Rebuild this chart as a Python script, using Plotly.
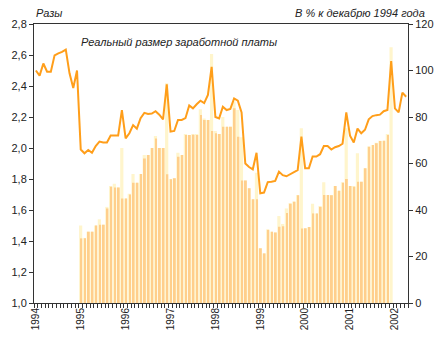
import plotly.graph_objects as go

# Real wage index, % of December 1994 (monthly, Jan 1994 - Apr 2002), right axis
wage_index = [
    100, 97.8, 103, 99.5, 99.5, 106.5, 107.4, 108, 109, 98.8, 92.5, 100,
    66, 64.4, 65.8, 64.6, 67.5, 69.4, 69, 69, 72, 72, 72, 83,
    70.8, 73, 76.5, 75, 79.5, 81.8, 81.3, 81.5, 82.5, 81, 79, 94,
    73.7, 74, 78.7, 78.7, 79.5, 85, 83.7, 85.5, 87, 86, 89.5, 101.6,
    80, 79.4, 84.4, 83, 83.5, 88, 87, 82, 60, 58.5, 57.5, 64.6,
    47.2, 47.5, 52, 52.2, 52.5, 56.5, 55, 54.5, 55.5, 56.5, 57.2, 71.6,
    58, 58, 63, 63, 64, 67.5, 67.5, 66, 67, 67.5, 68.5, 82,
    72, 69, 75, 73, 74.5, 79, 80.4, 80.8, 81, 82.5, 83, 104,
    83.7, 82, 90.5, 88.7,
]

# Ratios ("Разы"), monthly Jan 1995 - Dec 2001, left axis
ratio_light = [
    1.50, 1.42, 1.46, 1.46, 1.50, 1.54, 1.505, 1.62, 1.755, 1.77, 1.745, 2.00,
    1.675, 1.705, 1.832, 1.776, 1.832, 1.955, 1.955, 2.00, 2.077, 2.00, 2.00, 2.417,
    1.80, 1.805, 1.97, 1.955, 2.09, 2.084, 2.09, 2.09, 2.25, 2.19, 2.18, 2.606,
    2.11, 2.09, 2.20, 2.137, 2.137, 2.30, 2.245, 2.07, 1.79, 1.74, 1.669, 1.84,
    1.353, 1.32, 1.475, 1.46, 1.455, 1.561, 1.51, 1.61, 1.645, 1.655, 1.697, 2.127,
    1.482, 1.49, 1.64, 1.578, 1.626, 1.779, 1.697, 1.697, 1.755, 1.725, 1.779, 2.127,
    1.755, 1.755, 1.966, 1.783, 1.87, 2.01, 2.02, 2.034, 2.047, 2.047, 2.09, 2.65,
]
ratio_main = [
    1.417, 1.417, 1.46, 1.46, 1.50, 1.505, 1.505, 1.61, 1.75, 1.745, 1.745, 1.675,
    1.675, 1.70, 1.776, 1.776, 1.832, 1.933, 1.955, 2.00, 2.062, 2.00, 2.00, 1.83,
    1.798, 1.805, 1.944, 1.955, 2.084, 2.084, 2.085, 2.084, 2.213, 2.18, 2.18, 2.11,
    2.095, 2.09, 2.137, 2.137, 2.137, 2.256, 2.073, 1.79, 1.79, 1.74, 1.669, 1.669,
    1.353, 1.32, 1.472, 1.46, 1.455, 1.492, 1.495, 1.58, 1.64, 1.654, 1.695, 1.48,
    1.482, 1.49, 1.578, 1.578, 1.62, 1.697, 1.697, 1.695, 1.755, 1.725, 1.776, 1.80,
    1.755, 1.75, 1.783, 1.783, 1.87, 2.008, 2.02, 2.03, 2.045, 2.047, 2.084, None,
]

years = ["1994", "1995", "1996", "1997", "1998", "1999", "2000", "2001", "2002"]

line_x = list(range(len(wage_index)))
bar_x = list(range(12, 12 + len(ratio_main)))
year_ticks = [12 * i for i in range(len(years))]

fig = go.Figure()
fig.add_trace(go.Bar(x=bar_x, y=ratio_light, offset=-0.45, width=0.85,
                     marker=dict(color="#FFF5CC", line=dict(width=0)), yaxis="y"))
fig.add_trace(go.Bar(x=bar_x, y=ratio_main, offset=-0.1, width=0.5,
                     marker=dict(color="#FFCF8C", line=dict(width=0)), yaxis="y"))
fig.add_trace(go.Scatter(x=line_x, y=wage_index, mode="lines",
                         line=dict(color="#FF9E1A", width=2), yaxis="y2"))

axis_font = dict(family="Liberation Sans, Arial, sans-serif", size=11, color="#222")
title_font = dict(family="Liberation Sans, Arial, sans-serif", size=11, color="#222")
fig.update_layout(
    width=446, height=353,
    margin=dict(l=30, r=33, t=24, b=50),
    paper_bgcolor="white", plot_bgcolor="white",
    barmode="overlay", showlegend=False,
    separators=", ",
    xaxis=dict(range=[-0.5, 99.5], tickmode="array", tickvals=year_ticks, ticktext=years,
               tickangle=-90, ticks="", showgrid=False, zeroline=False,
               showline=True, linecolor="#333", linewidth=1, mirror=True,
               tickfont=dict(family="Liberation Sans, Arial, sans-serif", size=10, color="#222"),
               minor=dict(tickmode="linear", tick0=-0.5, dtick=1, ticks="outside",
                          ticklen=4, tickcolor="#333", showgrid=False)),
    yaxis=dict(range=[1.0, 2.8], dtick=0.2, tickformat=".1f", ticks="outside", ticklen=4,
               tickcolor="#333", showgrid=False, zeroline=False, showline=True,
               linecolor="#333", linewidth=1, tickfont=axis_font),
    yaxis2=dict(range=[0, 120], dtick=20, overlaying="y", side="right", ticks="outside",
                ticklen=4, tickcolor="#333", showgrid=False, zeroline=False, showline=True,
                linecolor="#333", linewidth=1, tickfont=axis_font),
    annotations=[
        dict(text="<i>Разы</i>", xref="paper", yref="paper", x=0.0, y=1.0,
             xanchor="left", yanchor="bottom", yshift=3, showarrow=False, font=title_font),
        dict(text="<i>В % к декабрю 1994 года</i>", xref="paper", yref="paper", x=1.05, y=1.0,
             xanchor="right", yanchor="bottom", yshift=3, showarrow=False, font=title_font),
        dict(text="<i>Реальный размер заработной платы</i>", xref="paper", yref="paper",
             x=0.12, y=0.935, xanchor="left", yanchor="middle", showarrow=False,
             font=title_font),
    ],
)

fig.write_html("out.html")
